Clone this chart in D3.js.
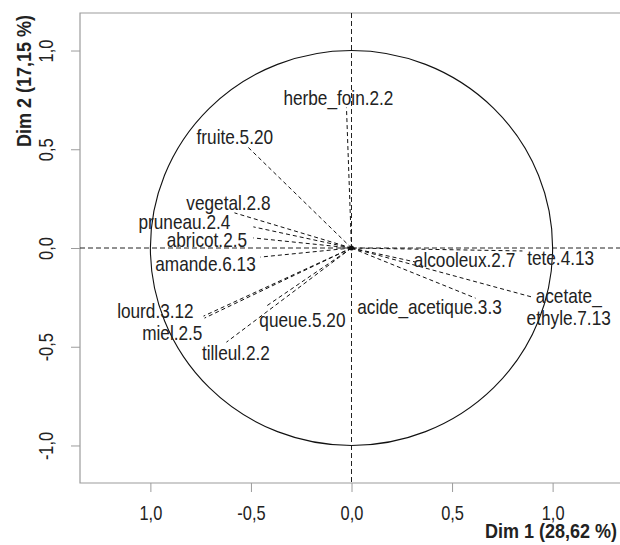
<!DOCTYPE html>
<html>
<head>
<meta charset="utf-8">
<script src="https://cdn.jsdelivr.net/npm/d3@7.9.0/dist/d3.min.js"></script>
<style>
  body { margin: 0; background: #fff; }
  svg text { font-family: "Liberation Sans", Arial, sans-serif; fill: #222; }
</style>
</head>
<body>
<svg id="chart" width="620" height="545"></svg>
<script>
// variable names (sensory descriptors)
const variables = ['herbe_foin.2.2', 'fruite.5.20', 'vegetal.2.8', 'pruneau.2.4', 'abricot.2.5',
  'amande.6.13', 'lourd.3.12', 'miel.2.5', 'tilleul.2.2', 'queue.5.20',
  'alcooleux.2.7', 'tete.4.13', 'acetate_\nethyle.7.13', 'acide_acetique.3.3'];
// coordinates on Dim 1 / Dim 2
const dim1 = [-0.025, -0.517, -0.582, -0.488, -0.488, -0.453, -0.736, -0.731, -0.622, -0.423, 0.318, 0.85, 0.90, 0.617];
const dim2 = [0.711, 0.513, 0.178, 0.107, 0.051, -0.046, -0.345, -0.355, -0.477, -0.294, -0.071, -0.015, -0.249, -0.254];
// where the labels were put (data units, after label repel)
const labDim1 = [-0.065, -0.580, -0.612, -0.831, -0.719, -0.726, -0.975, -0.891, -0.575, -0.244, 0.562, 1.040, 1.080, 0.388];
const labDim2 = [0.761, 0.563, 0.228, 0.133, 0.042, -0.081, -0.315, -0.431, -0.528, -0.365, -0.061, -0.051, -0.294, -0.299];

const tickValues = [-1, -0.5, 0, 0.5, 1];
const xTickLabels = ['1,0', '-0,5', '0,0', '0,5', '1,0'];
const yTickLabels = ['-1,0', '-0,5', '0,0', '0,5', '1,0'];
const xTitle = 'Dim 1 (28,62 %)';
const yTitle = 'Dim 2 (17,15 %)';

const svg = d3.select('#chart');
const x = d3.scaleLinear().domain([-1.35, 1.35]).range([80, 623]);
const y = d3.scaleLinear().domain([-1.19, 1.19]).range([483, 13]);
const boxColor = '#9c9c9c';
const narrow = 'scale(0.82,1)'; // condensed look of the original font

// box (right side runs off the picture)
svg.append('path')
  .attr('d', `M${x(1.35)},${y(1.19)} H${x(-1.35)} V${y(-1.19)} H${x(1.35)}`)
  .attr('fill', 'none').attr('stroke', boxColor).attr('stroke-width', 1.2);

// axes
const xAxis = svg.append('g').attr('transform', `translate(0,${y(-1.19)})`)
  .call(d3.axisBottom(x).tickValues(tickValues).tickSize(9).tickFormat((d, i) => xTickLabels[i]));
xAxis.select('.domain').remove();
xAxis.selectAll('line').attr('stroke', boxColor);
xAxis.selectAll('text')
  .attr('y', 0).attr('dy', 0)
  .attr('transform', `translate(0,37) ${narrow}`)
  .attr('font-size', 20).attr('fill', '#222');

const yAxis = svg.append('g').attr('transform', `translate(${x(-1.35)},0)`)
  .call(d3.axisLeft(y).tickValues(tickValues).tickSize(9).tickFormat((d, i) => yTickLabels[i]));
yAxis.select('.domain').remove();
yAxis.selectAll('line').attr('stroke', boxColor);
yAxis.selectAll('text')
  .attr('x', 0).attr('dy', 0)
  .attr('transform', `translate(-27,0) rotate(-90) ${narrow}`)
  .attr('text-anchor', 'middle')
  .attr('font-size', 20).attr('fill', '#222');

// axis titles
svg.append('text')
  .attr('transform', 'translate(617,538) scale(0.9,1)')
  .attr('text-anchor', 'end')
  .attr('font-size', 20).attr('font-weight', 'bold')
  .text(xTitle);
svg.append('text')
  .attr('transform', 'translate(31,15) rotate(-90) scale(0.9,1)')
  .attr('text-anchor', 'end')
  .attr('font-size', 20).attr('font-weight', 'bold')
  .text(yTitle);

// dashed lines through origin
svg.append('line')
  .attr('x1', x(-1.35)).attr('x2', x(1.35)).attr('y1', y(0)).attr('y2', y(0))
  .attr('stroke', '#222').attr('stroke-dasharray', '5,3');
svg.append('line')
  .attr('x1', x(0)).attr('x2', x(0)).attr('y1', y(1.19)).attr('y2', y(-1.19))
  .attr('stroke', '#222').attr('stroke-dasharray', '5,3');

// correlation circle
svg.append('ellipse')
  .attr('cx', x(0)).attr('cy', y(0))
  .attr('rx', x(1) - x(0)).attr('ry', y(0) - y(1))
  .attr('fill', 'none').attr('stroke', '#111').attr('stroke-width', 1.1);

// variable lines
svg.append('g').selectAll('line')
  .data(variables)
  .join('line')
  .attr('x1', x(0)).attr('y1', y(0))
  .attr('x2', (d, i) => x(dim1[i]))
  .attr('y2', (d, i) => y(dim2[i]))
  .attr('stroke', '#111').attr('stroke-width', 1)
  .attr('stroke-dasharray', '4,3');

svg.append('circle')
  .attr('cx', x(0)).attr('cy', y(0)).attr('r', 2.5).attr('fill', '#111');

// labels
const labels = svg.append('g').selectAll('text')
  .data(variables)
  .join('text')
  .attr('font-size', 21)
  .attr('text-anchor', 'middle')
  .attr('transform', (d, i) => `translate(${x(labDim1[i])},${y(labDim2[i])}) ${narrow}`);

labels.each(function(d) {
  const parts = d.split('\n');
  const t = d3.select(this);
  parts.forEach((p, j) => {
    t.append('tspan')
      .attr('x', 0)
      .attr('dy', j === 0 ? `${0.35 - (parts.length - 1) * 0.5}em` : '1.05em')
      .text(p);
  });
});
</script>
</body>
</html>
